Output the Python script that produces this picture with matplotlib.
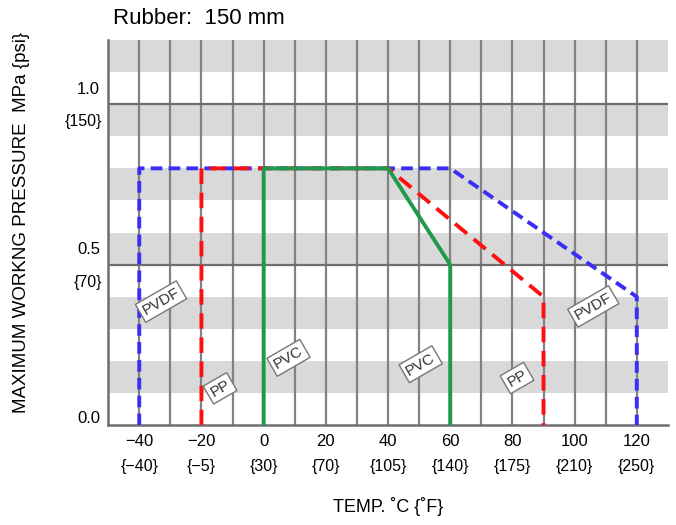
import matplotlib
matplotlib.use("Agg")
import matplotlib.pyplot as plt
import matplotlib.transforms as mtransforms

plt.rcParams['font.family'] = ['Liberation Sans', 'Noto Sans CJK JP', 'DejaVu Sans']

# data (temperature in C, pressure in MPa)
pvdf_t = [-40, -40, 60, 120, 120]
pvdf_p = [0.0, 0.8, 0.8, 0.4, 0.0]
pp_t = [-20, -20, 40, 90, 90]
pp_p = [0.0, 0.8, 0.8, 0.4, 0.0]
pvc_t = [0, 0, 40, 60, 60]
pvc_p = [0.0, 0.8, 0.8, 0.5, 0.0]

c_ticks = [-40, -20, 0, 20, 40, 60, 80, 100, 120]
f_labels = ["{-40}", "{-5}", "{30}", "{70}", "{105}", "{140}", "{175}", "{210}", "{250}"]
mpa_ticks = [1.0, 0.5]
psi_labels = ["{150}", "{70}"]

labels = [("PVDF", -33, 0.385), ("PP", -14, 0.115), ("PVC", 8, 0.21),
          ("PVC", 50.5, 0.19), ("PP", 81.5, 0.147), ("PVDF", 106, 0.37)]

fig = plt.figure(figsize=(6.76, 5.25), dpi=100)
ax = fig.add_axes([0.160, 0.190, 0.828, 0.734])
ax.set_xlim(-50, 130)
ax.set_ylim(0, 1.2)

# gray bands
for lo in [0.1, 0.3, 0.5, 0.7, 0.9, 1.1]:
    ax.axhspan(lo, lo + 0.1, color='#d9d9d9', lw=0, zorder=0)
# vertical grid
for t in range(-40, 130, 10):
    ax.axvline(t, color='#828282', lw=1.6, zorder=1)
for p in mpa_ticks:
    ax.axhline(p, color='#6e6e6e', lw=1.6, zorder=1)

for s in ['top', 'right']:
    ax.spines[s].set_visible(False)
for s in ['left', 'bottom']:
    ax.spines[s].set_color('#6e6e6e')
    ax.spines[s].set_linewidth(1.8)
ax.set_xticks([])
ax.set_yticks([])

ax.plot(pvdf_t, pvdf_p, color='#3a2df5', lw=2.8, dashes=(3, 1.6), zorder=3)
ax.plot(pp_t, pp_p, color='#ff1010', lw=2.8, dashes=(4, 2.2), zorder=4)
ax.plot(pvc_t, pvc_p, color='#1f9a4c', lw=2.8, zorder=5)

for txt, x, y in labels:
    ax.text(x, y, txt, rotation=30, ha='center', va='center', fontsize=11,
            color='#333333', zorder=6,
            bbox=dict(boxstyle='square,pad=0.22', fc='white', ec='#777777', lw=1))

# x tick labels (C and F)
trx = mtransforms.blended_transform_factory(ax.transData, fig.transFigure)
for t, fl in zip(c_ticks, f_labels):
    ax.text(t, 1 - 441 / 525, str(t).replace('-', '\u2212'), transform=trx, ha='center', va='center', fontsize=12)
    ax.text(t, 1 - 467 / 525, fl.replace('-', '\u2212'), transform=trx, ha='center', va='center', fontsize=11.5)

# y tick labels
try_ = mtransforms.blended_transform_factory(fig.transFigure, ax.transData)
for p, pl in zip(mpa_ticks, psi_labels):
    ax.text(100 / 676, p + 0.047, f"{p:.1f}", transform=try_, ha='right', va='center', fontsize=12)
    ax.text(102 / 676, p - 0.055, pl, transform=try_, ha='right', va='center', fontsize=11.5)
ax.text(100 / 676, 0.022, "0.0", transform=try_, ha='right', va='center', fontsize=12)

fig.text(113 / 676, 1 - 18 / 525, "Rubber:  150 mm", ha='left', va='center', fontsize=16)
fig.text(388 / 676, 1 - 507 / 525, "TEMP. \u02daC {\u02daF}", ha='center', va='center', fontsize=13)
fig.text(22 / 676, 1 - 222 / 525, "MAXIMUM WORKNG PRESSURE  MPa {psi}", rotation=90,
         ha='center', va='center', fontsize=13.5)

fig.savefig("out.png", dpi=100)
